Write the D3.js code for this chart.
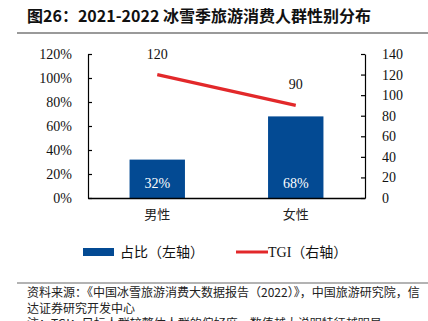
<!DOCTYPE html>
<html>
<head>
<meta charset="utf-8">
<script src="https://cdn.jsdelivr.net/npm/d3@7"></script>
<style>
  html, body { margin: 0; padding: 0; background: #fff; }
  svg { display: block; }
</style>
</head>
<body>
<svg id="chart" width="428" height="321"></svg>
<script>
// Data
const categories = ["男性", "女性"];
const shareValues = [0.32, 0.68];   // 占比（左轴）
const tgiValues = [120, 90];        // TGI（右轴）
const leftTicks = [0, 0.2, 0.4, 0.6, 0.8, 1.0, 1.2];
const rightTicks = [0, 20, 40, 60, 80, 100, 120, 140];

const BLUE = "#034a93";
const RED = "#e2282a";
const CJK = "'Noto Sans CJK SC', sans-serif";
const SERIF = "'Liberation Serif', 'Times New Roman', serif";

const svg = d3.select("#chart");

// Title and rules
svg.append("text")
  .attr("x", 27).attr("y", 22)
  .attr("font-family", CJK).attr("font-weight", "bold").attr("font-size", 16)
  .attr("fill", "#111")
  .text("图26：2021-2022 冰雪季旅游消费人群性别分布");
svg.append("line").attr("x1", 17).attr("x2", 428).attr("y1", 33).attr("y2", 33)
  .attr("stroke", "#9a9a9a").attr("stroke-width", 2);

// Scales
const plot = { left: 88, right: 365, top: 54, bottom: 198 };
const x = d3.scaleBand().domain(categories).range([plot.left, plot.right]).paddingInner(0.6).paddingOuter(0.3);
const yL = d3.scaleLinear().domain([0, 1.2]).range([plot.bottom, plot.top]);
const yR = d3.scaleLinear().domain([0, 140]).range([plot.bottom, plot.top]);

// Axes
const axL = svg.append("g").attr("transform", `translate(${plot.left},0)`)
  .call(d3.axisLeft(yL).tickValues(leftTicks).tickFormat(d3.format(".0%"))
    .tickSizeInner(-4).tickSizeOuter(0).tickPadding(16));
const axR = svg.append("g").attr("transform", `translate(${plot.right},0)`)
  .call(d3.axisRight(yR).tickValues(rightTicks)
    .tickSizeInner(-4).tickSizeOuter(0).tickPadding(17));
[axL, axR].forEach(g => {
  g.select(".domain").attr("stroke", "#000").attr("stroke-width", 1.2);
  g.selectAll(".tick line").attr("stroke", "#000").attr("stroke-width", 1.2);
  g.selectAll(".tick text").attr("font-family", SERIF).attr("font-size", 14).attr("fill", "#111");
});
axR.selectAll(".tick text").attr("text-anchor", "start");

// Bars
svg.append("g").selectAll("rect").data(categories).join("rect")
  .attr("x", d => x(d))
  .attr("width", x.bandwidth())
  .attr("y", (d, i) => yL(shareValues[i]))
  .attr("height", (d, i) => yL(0) - yL(shareValues[i]))
  .attr("fill", BLUE);

// Bar value labels
svg.append("g").selectAll("text").data(categories).join("text")
  .attr("x", d => x(d) + x.bandwidth() / 2)
  .attr("y", yL(0) - 10)
  .attr("text-anchor", "middle")
  .attr("font-family", SERIF).attr("font-size", 14).attr("fill", "#fff")
  .text((d, i) => d3.format(".0%")(shareValues[i]));

// Category axis
const axB = svg.append("g").attr("transform", `translate(0,${plot.bottom})`)
  .call(d3.axisBottom(x).tickSize(0).tickPadding(12));
axB.select(".domain").attr("stroke", "#000").attr("stroke-width", 1.5);
axB.selectAll(".tick text").attr("font-family", CJK).attr("font-size", 13).attr("fill", "#222");

// TGI line
const line = d3.line()
  .x(d => x(d.c) + x.bandwidth() / 2)
  .y(d => yR(d.v));
const tgiData = categories.map((c, i) => ({ c, v: tgiValues[i] }));
svg.append("path").datum(tgiData)
  .attr("d", line)
  .attr("fill", "none").attr("stroke", RED).attr("stroke-width", 3.2);
svg.append("g").selectAll("text").data(tgiData).join("text")
  .attr("x", d => x(d.c) + x.bandwidth() / 2)
  .attr("y", d => yR(d.v) - 16)
  .attr("text-anchor", "middle")
  .attr("font-family", SERIF).attr("font-size", 14).attr("fill", "#111")
  .text(d => d.v);

// Legend
const lg = svg.append("g").attr("transform", "translate(0,252)");
lg.append("rect").attr("x", 83).attr("y", -4).attr("width", 31).attr("height", 8).attr("fill", BLUE);
lg.append("text").attr("x", 120).attr("y", 5)
  .attr("font-family", CJK).attr("font-size", 14).attr("fill", "#111")
  .text("占比（左轴）");
lg.append("line").attr("x1", 236).attr("x2", 268).attr("y1", 0).attr("y2", 0)
  .attr("stroke", RED).attr("stroke-width", 3);
const tg = lg.append("text").attr("x", 268).attr("y", 5).attr("fill", "#111").attr("font-size", 14);
tg.append("tspan").attr("font-family", SERIF).text("TGI");
tg.append("tspan").attr("font-family", CJK).text("（右轴）");

// Source notes
svg.append("line").attr("x1", 17).attr("x2", 428).attr("y1", 283).attr("y2", 283)
  .attr("stroke", "#9a9a9a").attr("stroke-width", 1.5);
const notes = [
  "资料来源：《中国冰雪旅游消费大数据报告（2022）》，中国旅游研究院，信",
  "达证券研究开发中心",
  "注：TGI：目标人群较整体人群的偏好度，数值越大说明特征越明显"
];
svg.append("g").selectAll("text").data(notes).join("text")
  .attr("x", 27)
  .attr("y", (d, i) => 297 + i * 15.5)
  .attr("font-family", CJK).attr("font-size", 12).attr("fill", "#222")
  .text(d => d);
</script>
</body>
</html>
